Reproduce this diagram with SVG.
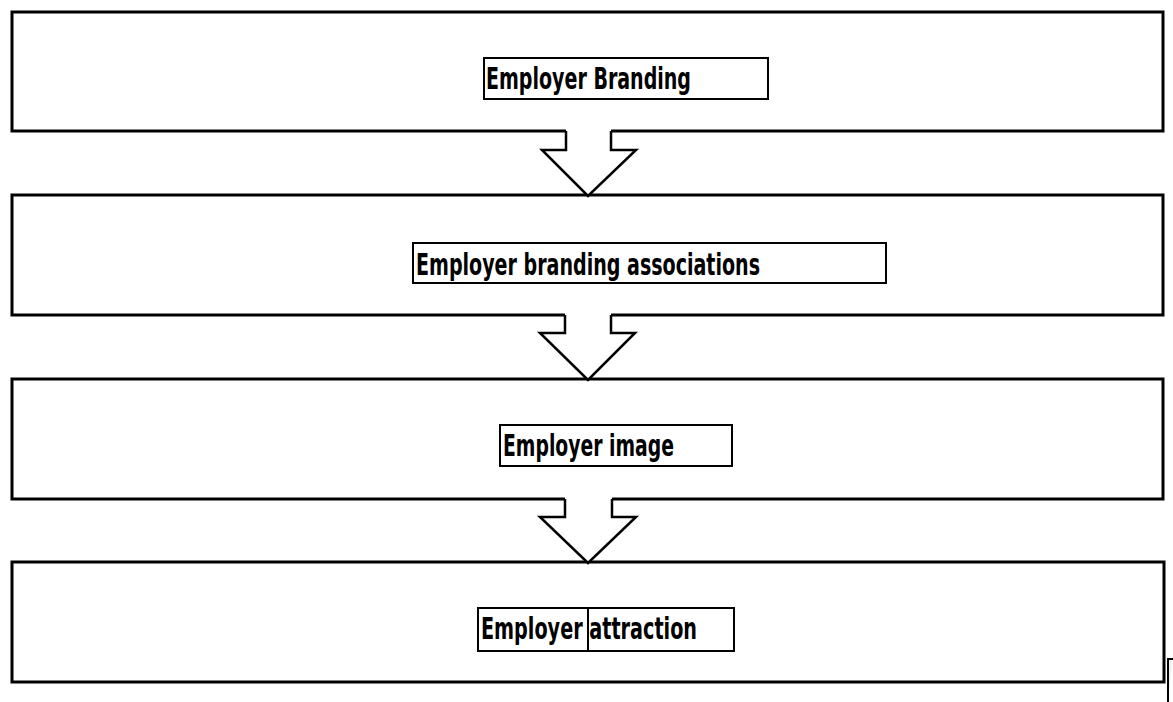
<svg xmlns="http://www.w3.org/2000/svg" width="1173" height="702" viewBox="0 0 1173 702">
<style>
.box{fill:#fff;stroke:#000;stroke-width:3}
.lbl{fill:#fff;stroke:#000;stroke-width:2}
.txt{font-family:"Liberation Sans Narrow","DejaVu Sans Condensed","Liberation Sans",sans-serif;font-weight:bold;font-size:31px;fill:#000}
.afill{fill:#fff;stroke:none}
.aline{fill:none;stroke:#000;stroke-width:2.5;stroke-linejoin:miter}
</style>
<rect width="1173" height="702" fill="#fff"/>
<g id="node1">
<rect class="box" x="12" y="12" width="1151" height="119"/>
<rect class="lbl" x="484" y="58" width="284" height="41"/>
<text class="txt" x="486" y="89" textLength="205" lengthAdjust="spacingAndGlyphs">Employer Branding</text>
</g>
<g id="node2">
<rect class="box" x="12" y="195" width="1151" height="120"/>
<rect class="lbl" x="413" y="243" width="473" height="40"/>
<text class="txt" x="416" y="275" textLength="344" lengthAdjust="spacingAndGlyphs">Employer branding associations</text>
</g>
<g id="node3">
<rect class="box" x="12" y="379" width="1151" height="120"/>
<rect class="lbl" x="500" y="425" width="232" height="41"/>
<text class="txt" x="503" y="456" textLength="171" lengthAdjust="spacingAndGlyphs">Employer image</text>
</g>
<g id="node4">
<rect class="box" x="12" y="562" width="1152" height="120"/>
<rect class="lbl" x="478" y="608" width="256" height="43"/>
<line x1="588" y1="608" x2="588" y2="651" stroke="#000" stroke-width="2"/>
<text class="txt" x="481" y="639" textLength="216" lengthAdjust="spacingAndGlyphs">Employer attraction</text>
</g>
<g id="connectors">
<polygon class="afill" points="566,128 566,150 542,150 588,196 636,150 611,150 611,128"/>
<polyline class="aline" points="566,131 566,150 542,150 588,196 636,150 611,150 611,131"/>
<polygon class="afill" points="565,312 565,333 540,333 588,380 635,333 611,333 611,312"/>
<polyline class="aline" points="565,315 565,333 540,333 588,380 635,333 611,333 611,315"/>
<polygon class="afill" points="565,496 565,517 540,517 588,563 636,517 612,517 612,496"/>
<polyline class="aline" points="565,499 565,517 540,517 588,563 636,517 612,517 612,499"/>
</g>
<path d="M1168,702 L1168,659 L1173,659" fill="#f2f2f2" stroke="#000" stroke-width="2"/>
</svg>
